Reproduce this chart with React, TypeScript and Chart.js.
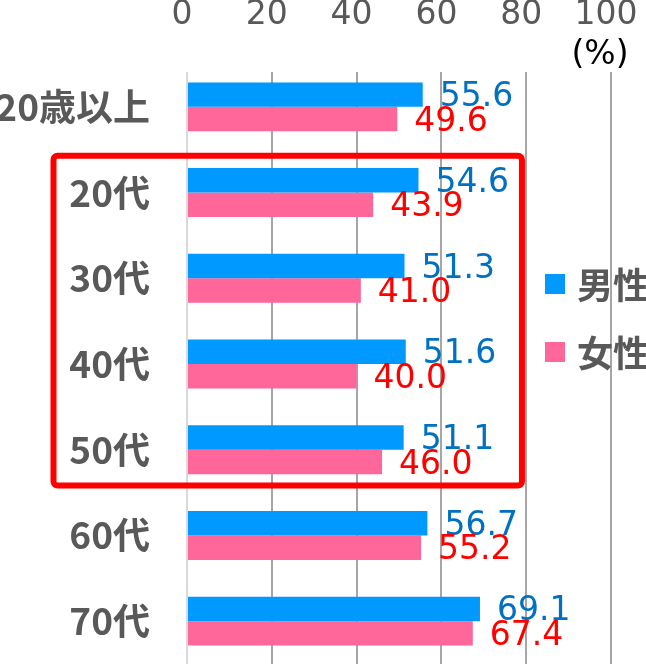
import React, { useEffect, useRef } from "react";
import { Chart, registerables } from "chart.js";

Chart.register(...registerables);

const categories = ["20歳以上", "20代", "30代", "40代", "50代", "60代", "70代"];
const maleValues = [55.6, 54.6, 51.3, 51.6, 51.1, 56.7, 69.1];
const femaleValues = [49.6, 43.9, 41.0, 40.0, 46.0, 55.2, 67.4];
const seriesNames = ["男性", "女性"];
const xTicks = [0, 20, 40, 60, 80, 100];
const unitLabel = "(%)";

const BLUE = "#0099FF";
const PINK = "#FF6699";
const BLUE_TEXT = "#0070C0";
const RED_TEXT = "#FF0000";
const GRAY = "#595959";
const NUM_FONT = "DejaVu Sans, Verdana, sans-serif";
const JP_FONT = "'Noto Sans CJK JP', sans-serif";

const decorPlugin = {
  id: "decor",
  beforeDatasetsDraw(chart: any) {
    const { ctx, chartArea } = chart;
    // grid lines start slightly below the plot top in the reference
    ctx.save();
    ctx.fillStyle = "#ffffff";
    ctx.fillRect(chartArea.left - 2, chartArea.top - 1, chartArea.right - chartArea.left + 4, 73 - chartArea.top);
    ctx.restore();
  },
  afterDatasetsDraw(chart: any) {
    const { ctx, chartArea } = chart;
    const xs = chart.scales.x;
    const ys = chart.scales.y;
    // value labels
    ctx.save();
    ctx.font = `33px ${NUM_FONT}`;
    ctx.textAlign = "left";
    ctx.textBaseline = "middle";
    chart.data.datasets.forEach((ds: any, di: number) => {
      const meta = chart.getDatasetMeta(di);
      ctx.fillStyle = di === 0 ? BLUE_TEXT : RED_TEXT;
      meta.data.forEach((bar: any, i: number) => {
        const v = ds.data[i];
        ctx.fillText(v.toFixed(1), bar.x + 17, bar.y + 3);
      });
    });
    ctx.restore();

    // red highlight box around 20代-50代
    ctx.save();
    const top = ys.getPixelForValue(0.5) + 6;
    const bottom = ys.getPixelForValue(4.5) - 7;
    const left = chartArea.left - 133.5;
    const right = xs.getPixelForValue(79);
    ctx.strokeStyle = "#FF0000";
    ctx.lineWidth = 6;
    ctx.beginPath();
    if ((ctx as any).roundRect) {
      (ctx as any).roundRect(left, top, right - left, bottom - top, 4);
    } else {
      ctx.rect(left, top, right - left, bottom - top);
    }
    ctx.stroke();
    ctx.restore();

    // legend
    ctx.save();
    const colors = [BLUE, PINK];
    const legendYs = [284, 352];
    ctx.font = `bold 36px ${JP_FONT}`;
    ctx.textBaseline = "middle";
    ctx.textAlign = "left";
    seriesNames.forEach((name, i) => {
      ctx.fillStyle = colors[i];
      ctx.fillRect(545, legendYs[i] - 10, 20, 20);
      ctx.fillStyle = GRAY;
      ctx.fillText(name, 577, legendYs[i] + 1);
    });
    ctx.restore();

    // unit label
    ctx.save();
    ctx.font = `33px ${NUM_FONT}`;
    ctx.fillStyle = "#000000";
    ctx.textAlign = "center";
    ctx.textBaseline = "middle";
    ctx.fillText(unitLabel, xs.getPixelForValue(100) - 11, 55);
    ctx.restore();
  },
};

export default function App() {
  const ref = useRef<HTMLCanvasElement | null>(null);

  useEffect(() => {
    document.body.style.margin = "0";
    const canvas = ref.current!;
    const chart = new Chart(canvas, {
      type: "bar",
      data: {
        labels: categories,
        datasets: [
          {
            label: seriesNames[0],
            data: maleValues,
            backgroundColor: BLUE,
            categoryPercentage: 0.571,
            barPercentage: 1,
          },
          {
            label: seriesNames[1],
            data: femaleValues,
            backgroundColor: PINK,
            categoryPercentage: 0.571,
            barPercentage: 1,
          },
        ],
      },
      options: {
        indexAxis: "y",
        responsive: false,
        animation: false,
        devicePixelRatio: 1,
        layout: { padding: { left: 0, right: 35, top: 0, bottom: 2 } },
        plugins: {
          legend: { display: false },
          tooltip: { enabled: false },
        },
        scales: {
          x: {
            position: "top",
            min: 0,
            max: 100,
            afterBuildTicks: (s: any) => {
              s.ticks = xTicks.map((v) => ({ value: v }));
            },
            afterFit: (s: any) => {
              s.height = 64;
              s.paddingLeft = 0;
              s.paddingRight = 0;
              s.paddingTop = 0;
              s.paddingBottom = 0;
            },
            ticks: {
              color: GRAY,
              font: { size: 33, family: NUM_FONT, lineHeight: 1 },
              padding: 32,
              labelOffset: -5,
              maxRotation: 0,
            },
            grid: {
              drawTicks: false,
              lineWidth: 2,
              color: (c: any) => (c.tick && c.tick.value === 0 ? "#D9D9D9" : "#A6A6A6"),
            },
            border: { display: false },
          },
          y: {
            afterFit: (s: any) => {
              s.width = 187;
              s.paddingLeft = 0;
              s.paddingRight = 0;
              s.paddingTop = 0;
              s.paddingBottom = 0;
            },
            ticks: {
              color: GRAY,
              font: { size: 37, family: JP_FONT, weight: "bold", lineHeight: 1 },
              padding: 37,
            },
            grid: { display: false, drawTicks: false },
            border: { display: false },
          },
        },
      },
      plugins: [decorPlugin],
    } as any);
    return () => chart.destroy();
  }, []);

  return (
    <div style={{ position: "fixed", left: 0, top: 0, width: 646, height: 666, background: "#fff" }}>
      <canvas ref={ref} width={646} height={666} style={{ width: 646, height: 666, display: "block" }} />
    </div>
  );
}
